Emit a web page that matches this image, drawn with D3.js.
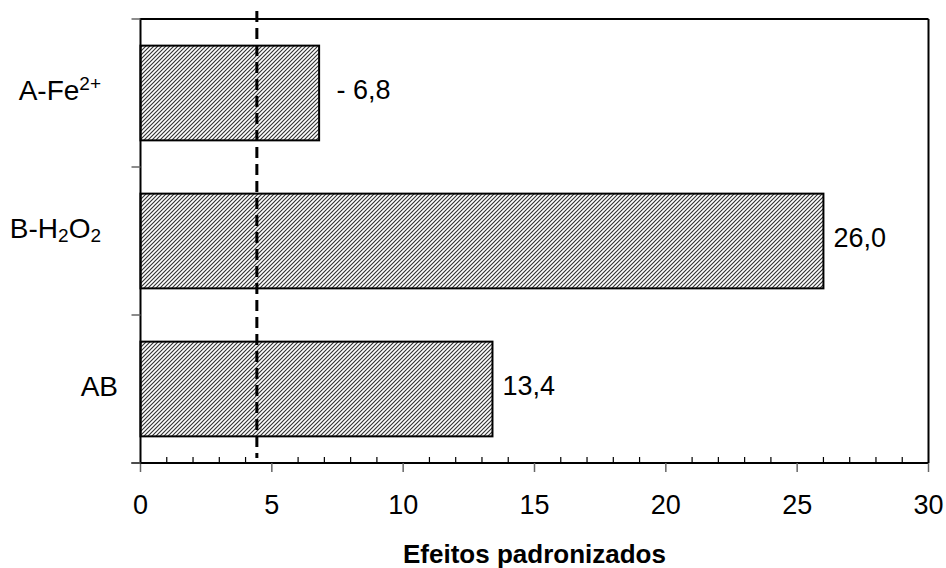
<!DOCTYPE html>
<html>
<head>
<meta charset="utf-8">
<script src="https://cdn.jsdelivr.net/npm/d3@7"></script>
<style>
  html, body { margin: 0; padding: 0; background: #fff; }
  svg { display: block; font-family: "Liberation Sans", Arial, sans-serif; }
</style>
</head>
<body>
<svg id="chart" width="946" height="568"></svg>
<script>
// ---- data ----
const categories = ["A-Fe^{2+}", "B-H_{2}O_{2}", "AB"];
const values = [6.8, 26.0, 13.4];
const valueLabels = [" - 6,8", "26,0", "13,4"];
const xTicks = [0, 5, 10, 15, 20, 25, 30];
const xTickLabels = ["0", "5", "10", "15", "20", "25", "30"];
const xMinorTicks = d3.range(0, 31, 1);
const threshold = 4.43;
const xTitle = "Efeitos padronizados";

(function () {
// ---- layout ----
const svg = d3.select("#chart");
const pLeft = 140.5, pRight = 928.5, pTop = 19, pBottom = 463;

const x = d3.scaleLinear().domain([0, 30]).range([pLeft, pRight]);
const y = d3.scaleBand().domain(categories).range([pTop, pBottom])
  .paddingInner(0.36).paddingOuter(0.18);

// hatch pattern
const defs = svg.append("defs");
const pat = defs.append("pattern")
  .attr("id", "hatch").attr("patternUnits", "userSpaceOnUse")
  .attr("width", 4).attr("height", 4);
pat.append("rect").attr("width", 4).attr("height", 4).attr("fill", "#fff");
pat.append("path")
  .attr("d", "M-1,1 L1,-1 M0,4 L4,0 M3,5 L5,3")
  .attr("stroke", "#333").attr("stroke-width", 1.15);

// bars
svg.append("g").selectAll("rect").data(values).join("rect")
  .attr("x", x(0))
  .attr("y", (d, i) => y(categories[i]))
  .attr("width", d => x(d) - x(0))
  .attr("height", y.bandwidth())
  .attr("fill", "url(#hatch)")
  .attr("stroke", "#000").attr("stroke-width", 2);

// plot frame: top and right
svg.append("line").attr("x1", pLeft).attr("x2", pRight).attr("y1", pTop).attr("y2", pTop)
  .attr("stroke", "#000").attr("stroke-width", 2);
svg.append("line").attr("x1", pRight).attr("x2", pRight).attr("y1", pTop).attr("y2", pBottom)
  .attr("stroke", "#000").attr("stroke-width", 2);

// x axis (bottom): major ticks outward, minor inward
const xAxis = svg.append("g").attr("transform", `translate(0,${pBottom})`);
xAxis.append("line").attr("x1", pLeft - 9).attr("x2", pRight).attr("stroke", "#000").attr("stroke-width", 2);
xAxis.selectAll(".minor").data(xMinorTicks.filter(v => v % 5 !== 0)).join("line")
  .attr("class", "minor")
  .attr("x1", d => x(d)).attr("x2", d => x(d))
  .attr("y1", -6).attr("y2", 0)
  .attr("stroke", "#000").attr("stroke-width", 1.2);
xAxis.selectAll(".major").data(xTicks).join("line")
  .attr("class", "major")
  .attr("x1", d => x(d)).attr("x2", d => x(d))
  .attr("y1", 0).attr("y2", 9)
  .attr("stroke", "#666").attr("stroke-width", 1.5);
xAxis.selectAll("text").data(xTicks).join("text")
  .attr("x", d => x(d)).attr("y", 51)
  .attr("text-anchor", "middle")
  .attr("font-size", 27)
  .text((d, i) => xTickLabels[i]);

// y axis
const yAxis = svg.append("g");
yAxis.append("line").attr("x1", pLeft).attr("x2", pLeft).attr("y1", pTop - 1).attr("y2", pBottom + 1)
  .attr("stroke", "#000").attr("stroke-width", 2);
const bandEdges = categories.map(c => y(c) - y.step() * y.paddingInner() / 2).concat([pBottom]);
yAxis.selectAll(".ytick").data(bandEdges).join("line")
  .attr("class", "ytick")
  .attr("x1", pLeft - 9).attr("x2", pLeft)
  .attr("y1", d => d).attr("y2", d => d)
  .attr("stroke", "#666").attr("stroke-width", 1.5);

// category labels with sub/superscripts
function parseLabel(s) {
  const parts = [];
  const re = /(\^|_)\{([^}]*)\}|([^\^_]+)/g;
  let m;
  while ((m = re.exec(s)) !== null) {
    if (m[3]) parts.push({ t: m[3], k: "n" });
    else parts.push({ t: m[2], k: m[1] === "^" ? "sup" : "sub" });
  }
  return parts;
}
categories.forEach((c, i) => {
  const parts = parseLabel(c);
  const rich = parts.some(p => p.k !== "n");
  const hasSub = parts.some(p => p.k === "sub");
  const cy = y(c) + y.bandwidth() / 2;
  const t = svg.append("text")
    .attr("x", rich ? 101 : 118)
    .attr("y", cy + (hasSub ? -3 : 7))
    .attr("text-anchor", "end")
    .attr("font-size", 28);
  parts.forEach(p => {
    const ts = t.append("tspan").text(p.t);
    if (p.k === "sup") ts.attr("font-size", 19).attr("baseline-shift", "52%");
    if (p.k === "sub") ts.attr("font-size", 19).attr("baseline-shift", "-22%");
  });
});

// value labels
svg.append("g").selectAll("text").data(values).join("text")
  .attr("x", d => x(d) + 10)
  .attr("y", (d, i) => y(categories[i]) + y.bandwidth() / 2 + 6)
  .attr("font-size", 27)
  .style("white-space", "pre")
  .text((d, i) => valueLabels[i]);

// threshold dashed line
svg.append("line")
  .attr("x1", x(threshold)).attr("x2", x(threshold))
  .attr("y1", 11).attr("y2", 458)
  .attr("stroke", "#000").attr("stroke-width", 3)
  .attr("stroke-dasharray", "11,6");

// axis title
svg.append("text")
  .attr("x", (x(0) + x(30)) / 2 + 0).attr("y", 563)
  .attr("text-anchor", "middle")
  .attr("font-size", 26).attr("font-weight", "bold")
  .text(xTitle);
})();
</script>
</body>
</html>
